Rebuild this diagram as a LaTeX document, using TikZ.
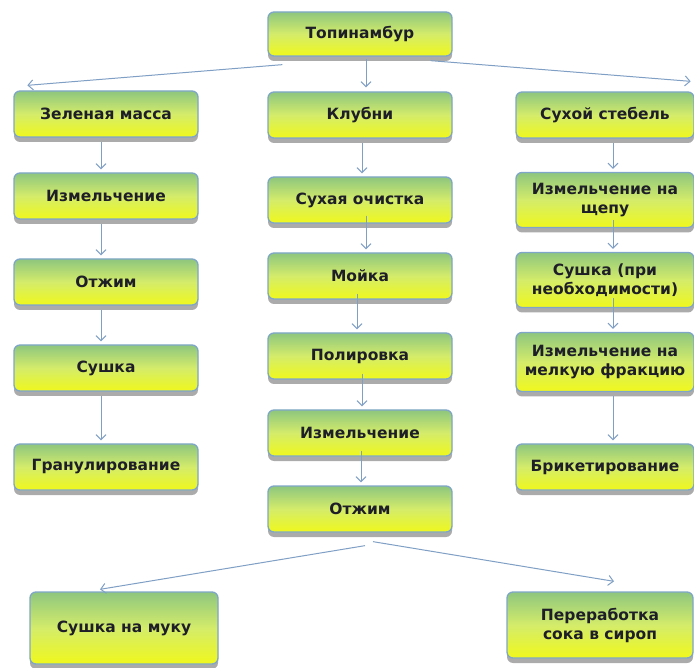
\documentclass[tikz,border=0pt]{standalone}
\usepackage{fontspec}
\setmainfont{DejaVu Sans}
\usetikzlibrary{arrows.meta,calc,shadows}
\definecolor{bordc}{HTML}{7FA6C8}
\definecolor{arrc}{HTML}{7F9FC4}
\definecolor{topc}{HTML}{8EC67E}
\definecolor{midc}{HTML}{D4EC6A}
\definecolor{botc}{HTML}{F0F81C}
\definecolor{txtc}{HTML}{1E1E28}
\tikzset{
  box/.style={draw=bordc, line width=1.3pt, rounded corners=6pt,
    top color=topc, bottom color=botc, middle color=midc,
    drop shadow={shadow xshift=0pt, shadow yshift=-5pt, fill=black!55, opacity=0.6},
    minimum width=184pt, minimum height=46pt, align=center,
    font=\fontsize{15.5}{19}\selectfont\bfseries, text=txtc, inner sep=2pt},
  rbox/.style={box, minimum width=178pt},
  arr/.style={draw=arrc, line width=1pt, -{Straight Barb[length=5pt,width=10pt]}}
}
\begin{document}
\begin{tikzpicture}[x=1pt,y=-1pt]
\useasboundingbox (0,0) rectangle (694,668);
% top
\node[box, minimum height=44pt] (T) at (360,34) {Топинамбур};
\node[box] (ZM) at (106,114) {Зеленая масса};
\node[box] (KL) at (360,115) {Клубни};
\node[rbox] (SS) at (605,115) {Сухой стебель};
% left column
\node[box] (L1) at (106,196) {Измельчение};
\node[box] (L2) at (106,282) {Отжим};
\node[box] (L3) at (106,368) {Сушка};
\node[box] (L4) at (106,467) {Гранулирование};
% middle column
\node[box] (M1) at (360,200) {Сухая очистка};
\node[box] (M2) at (360,276) {Мойка};
\node[box] (M3) at (360,356) {Полировка};
\node[box] (M4) at (360,433) {Измельчение};
\node[box] (M5) at (360,509) {Отжим};
% right column
\node[rbox, minimum height=55pt] (R1) at (605,200) {Измельчение на\\щепу};
\node[rbox, minimum height=55pt] (R2) at (605,280) {Сушка (при\\необходимости)};
\node[rbox, minimum height=59pt] (R3) at (605,362) {Измельчение на\\мелкую фракцию};
\node[rbox] (R4) at (605,467) {Брикетирование};
% bottom
\node[box, minimum width=188pt, minimum height=72pt] (B1) at (124,628) {Сушка на муку};
\node[box, minimum width=186pt, minimum height=66pt] (B2) at (600,625) {Переработка\\сока в сироп};
% arrows from top
\draw[arr] ($(T.south west)+(15,8)$) -- ($(ZM.north west)+(14,-5)$);
\draw[arr] ($(T.south)+(6,2)$) -- ($(KL.north)+(6,-4)$);
\draw[arr] ($(T.south east)+(-22,4)$) -- ($(SS.north east)+(-4,-10)$);
% left column arrows
\draw[arr] ($(ZM.south)+(-5,4)$) -- ($(L1.north)+(-5,-3)$);
\draw[arr] ($(L1.south)+(-5,4)$) -- ($(L2.north)+(-5,-3)$);
\draw[arr] ($(L2.south)+(-5,4)$) -- ($(L3.north)+(-5,-3)$);
\draw[arr] ($(L3.south)+(-5,4)$) -- ($(L4.north)+(-5,-3)$);
% middle column arrows
\draw[arr] ($(KL.south)+(2,4)$) -- ($(M1.north)+(2,-3)$);
\draw[arr] ($(M1.south)+(6,-8)$) -- ($(M2.north)+(6,-3)$);
\draw[arr] ($(M2.south)+(-3,-6)$) -- ($(M3.north)+(-3,-3)$);
\draw[arr] ($(M3.south)+(2,-6)$) -- ($(M4.north)+(2,-3)$);
\draw[arr] ($(M4.south)+(1,-6)$) -- ($(M5.north)+(1,-3)$);
% right column arrows
\draw[arr] ($(SS.south)+(8,4)$) -- ($(R1.north)+(8,-3)$);
\draw[arr] ($(R1.south)+(8,-8)$) -- ($(R2.north)+(8,-3)$);
\draw[arr] ($(R2.south)+(8,-10)$) -- ($(R3.north)+(8,-3)$);
\draw[arr] ($(R3.south)+(8,4)$) -- ($(R4.north)+(8,-3)$);
% bottom arrows
\draw[arr] ($(M5.south)+(5,13)$) -- ($(B1.north)+(-24,-2)$);
\draw[arr] ($(M5.south)+(13,9)$) -- ($(B2.north)+(14,-10)$);
\end{tikzpicture}
\end{document}
